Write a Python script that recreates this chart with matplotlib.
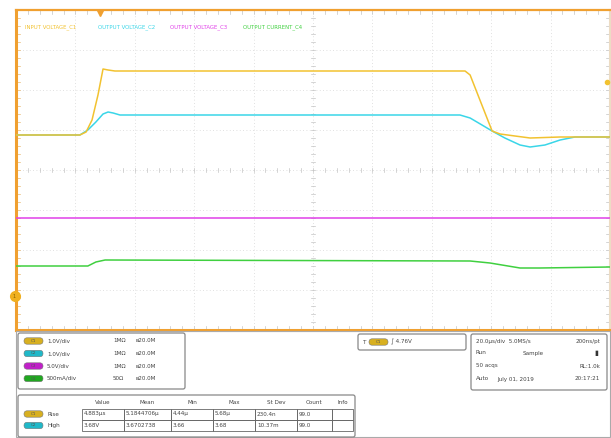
import matplotlib
matplotlib.use("Agg")
import matplotlib.pyplot as plt
from matplotlib.patches import FancyBboxPatch, Rectangle
import numpy as np

# ---------------- data (time in us, level in screen divisions) ----------------
c1_t = [0, 21.5, 23.6, 25.6, 27.6, 29.3, 31.0, 33.3, 151.2, 152.9, 156.2, 160.3, 163.0, 168.0, 173.1, 183.2, 200]
c1_v = [0.875, 0.875, 0.95, 1.25, 1.875, 2.525, 2.5, 2.475, 2.475, 2.375, 1.75, 0.975, 0.9, 0.85, 0.8, 0.825, 0.825]

c2_t = [0, 21.5, 24.2, 26.9, 29.3, 31.0, 32.7, 35.0, 149.5, 152.9, 156.9, 160.3, 164.6, 169.7, 173.1, 178.1, 183.2, 188.2, 200]
c2_v = [0.875, 0.875, 1.0, 1.2, 1.4, 1.45, 1.425, 1.375, 1.375, 1.3, 1.125, 0.975, 0.8, 0.625, 0.575, 0.625, 0.75, 0.825, 0.825]

c3_t = [0, 200]
c3_v = [-1.2, -1.2]

c4_t = [0, 24.2, 26.9, 30.0, 152.9, 159.6, 169.7, 176.4, 200]
c4_v = [-2.4, -2.4, -2.3, -2.25, -2.275, -2.325, -2.45, -2.45, -2.425]

trace_labels = ["INPUT VOLTAGE_C1", "OUTPUT VOLTAGE_C2", "OUTPUT VOLTAGE_C3", "OUTPUT CURRENT_C4"]
trace_colors = ["#f2c230", "#3ad6e8", "#e040e8", "#40d040"]

ch_names = ["C1", "C2", "C3", "C4"]
ch_scales = ["1.0V/div", "1.0V/div", "5.0V/div", "500mA/div"]
ch_imped = ["1MΩ", "1MΩ", "1MΩ", "50Ω"]
ch_bw = ["20.0M", "20.0M", "20.0M", "20.0M"]

meas_headers = ["Value", "Mean", "Min", "Max", "St Dev", "Count", "Info"]
meas_rows = [("C1", "Rise", ["4.883µs", "5.1844706µ", "4.44µ", "5.68µ", "230.4n", "99.0", ""]),
             ("C2", "High", ["3.68V", "3.6702738", "3.66", "3.68", "10.37m", "99.0", ""])]

trig_level = "4.76V"
trig_div = 2.2
timebase = ["20.0µs/div", "5.0MS/s", "200ns/pt"]
acq = ["Run", "Sample", "50 acqs", "RL:1.0k", "Auto", "July 01, 2019", "20:17:21"]

# ---------------- figure ----------------
W, H = 611, 438
fig = plt.figure(figsize=(W / 100, H / 100), dpi=100)
fig.patch.set_facecolor("white")

def fx(px):
    return px / W

def fy(py):
    return 1 - py / H

L, R, T, B = 16, 610, 10, 330
ax = fig.add_axes([fx(L), fy(B), fx(R) - fx(L), fy(T) - fy(B)])
ax.set_xlim(0, 200)
ax.set_ylim(-4, 4)
ax.set_xticks([])
ax.set_yticks([])
orange = "#f0a030"
for s in ["left", "bottom"]:
    ax.spines[s].set_color(orange)
    ax.spines[s].set_linewidth(2.2)
ax.spines["top"].set_color(orange)
ax.spines["top"].set_linewidth(1.6)
ax.spines["right"].set_color("#ecdcc4")
ax.spines["right"].set_linewidth(1.5)

grid_c = "#d6d6d6"
for i in range(1, 10):
    ax.axvline(i * 20, color=grid_c, lw=0.6, ls=(0, (1, 3)), zorder=1)
for j in range(-3, 4):
    ax.axhline(j, color=grid_c, lw=0.6, ls=(0, (1, 3)), zorder=1)
# minor ticks on centre lines and edges
for k in range(1, 50):
    x = k * 4
    ax.plot([x, x], [-0.06, 0.06], color="#c4c4c4", lw=0.5, zorder=1)
    ax.plot([x, x], [3.9, 4], color="#c4c4c4", lw=0.5, zorder=1)
    ax.plot([x, x], [-4, -3.9], color="#c4c4c4", lw=0.5, zorder=1)
for k in range(-19, 20):
    y = k * 0.2
    ax.plot([99.3, 100.7], [y, y], color="#c4c4c4", lw=0.5, zorder=1)
    ax.plot([0, 1.4], [y, y], color="#e8b870", lw=0.5, zorder=1)
    ax.plot([198.6, 200], [y, y], color="#c4c4c4", lw=0.5, zorder=1)

for t, v, c in [(c4_t, c4_v, trace_colors[3]), (c3_t, c3_v, trace_colors[2]),
                (c2_t, c2_v, trace_colors[1]), (c1_t, c1_v, trace_colors[0])]:
    ax.plot(t, v, color=c, lw=1.1, zorder=3)

# trace name labels
for i, (lab, c) in enumerate(zip(trace_labels, trace_colors)):
    ax.text(3 + i * 24.5, 3.56, lab, color=c, fontsize=3.9, va="center", ha="left")

# markers
ax.plot([28.3], [3.93], marker="v", color=orange, ms=5, clip_on=False, zorder=5)
ax.plot([199.0], [trig_div], marker="o", color=trace_colors[0], ms=3, clip_on=False, zorder=5)
ax.plot([-0.5], [-3.15], marker="o", color="#f0b020", ms=7, clip_on=False, zorder=5)
ax.text(-0.5, -3.15, "1", fontsize=3.5, ha="center", va="center", color="#806000", zorder=6)

# ---------------- bottom panels (pixel overlay) ----------------
ov = fig.add_axes([0, 0, 1, 1])
ov.set_xlim(0, W)
ov.set_ylim(H, 0)
ov.axis("off")
ov.patch.set_alpha(0)

tc = "#444444"
fs = 4.1

ov.add_patch(Rectangle((16, 331), 594, 106, fill=False, ec="#aaaaaa", lw=0.8))

def box(x0, y0, x1, y1, lw=0.9, ec="#888888"):
    ov.add_patch(FancyBboxPatch((x0, y0), x1 - x0, y1 - y0,
                                boxstyle="round,pad=0,rounding_size=2",
                                fc="white", ec=ec, lw=lw))

def badge(x, y, c, txt):
    ov.add_patch(FancyBboxPatch((x, y - 3.2), 19, 6.4,
                                boxstyle="round,pad=0,rounding_size=3.2",
                                fc=c, ec="#777777", lw=0.4))
    ov.text(x + 9.5, y, txt, fontsize=3, ha="center", va="center", color="#555555")

badge_colors = ["#d8b020", "#20b8c8", "#c020c8", "#20a820"]

box(18, 333, 185, 389)
for i in range(4):
    y = 341 + i * 12.5
    badge(24, y, badge_colors[i], ch_names[i])
    ov.text(47, y, ch_scales[i], fontsize=fs, va="center", color=tc)
    ov.text(113, y, ch_imped[i], fontsize=fs, va="center", color=tc)
    ov.text(135, y, "ʙ" + ch_bw[i], fontsize=fs, va="center", color=tc)

# measurement table
box(18, 395, 355, 437)
col_edges = [82, 124, 171, 213, 255, 297, 332, 353]
for j, h in enumerate(meas_headers):
    ov.text((col_edges[j] + col_edges[j + 1]) / 2, 403, h, fontsize=fs, ha="center",
            va="center", color=tc)
for r, (ch, name, vals) in enumerate(meas_rows):
    y = 414 + r * 11.5
    badge(24, y, badge_colors[r], ch)
    ov.text(48, y, name, fontsize=fs, va="center", color=tc)
    for j, v in enumerate(vals):
        ov.add_patch(Rectangle((col_edges[j], y - 5.5), col_edges[j + 1] - col_edges[j], 11,
                               fill=False, ec="#666666", lw=0.6))
        ov.text(col_edges[j] + 2, y, v, fontsize=fs, va="center", color=tc)

# trigger box
box(358, 334, 466, 350)
ov.text(363, 342, "T", fontsize=fs, va="center", color=tc)
badge(369, 342, "#d8b020", "C1")
ov.text(391, 342, "∫ " + trig_level, fontsize=fs, va="center", color=tc)

# acquisition box
box(471, 334, 607, 390)
ov.text(476, 341, timebase[0] + "  " + timebase[1], fontsize=fs, va="center", color=tc)
ov.text(600, 341, timebase[2], fontsize=fs, va="center", ha="right", color=tc)
ov.text(476, 353, acq[0], fontsize=fs, va="center", color=tc)
ov.text(523, 353, acq[1], fontsize=fs, va="center", color=tc)
ov.text(596, 353, "▮", fontsize=5, va="center", ha="center", color="#333333")
ov.text(476, 366, acq[2], fontsize=fs, va="center", color=tc)
ov.text(600, 366, acq[3], fontsize=fs, va="center", ha="right", color=tc)
ov.text(476, 379, acq[4], fontsize=fs, va="center", color=tc)
ov.text(497, 379, acq[5], fontsize=fs, va="center", color=tc)
ov.text(600, 379, acq[6], fontsize=fs, va="center", ha="right", color=tc)

fig.savefig("out.png", dpi=100, facecolor="white")
